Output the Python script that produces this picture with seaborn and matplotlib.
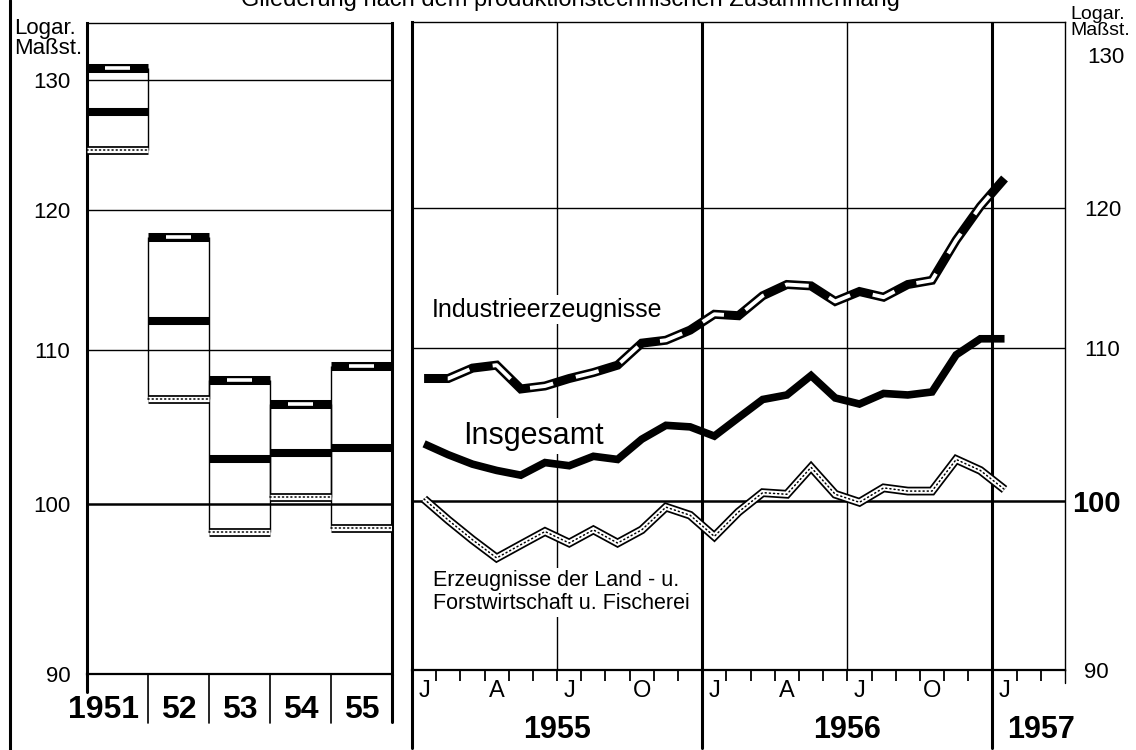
import numpy as np
import pandas as pd
import seaborn as sns
import matplotlib
matplotlib.use("Agg")
from matplotlib import pyplot as plt
from matplotlib import transforms
from matplotlib.lines import Line2D
from matplotlib.ticker import FixedLocator, NullLocator

# Jahreswerte 1951-1955 (linker Teil)
years = ['1951', '52', '53', '54', '55']
industrie_year = [131.0, 118.0, 108.0, 106.4, 108.9]
insgesamt_year = [127.5, 112.0, 102.8, 103.2, 103.5]
land_year = [124.5, 106.7, 98.3, 100.4, 98.5]

# Monatswerte Jan 1955 - Jan 1957 (rechter Teil)
months = [str(p) for p in pd.period_range('1955-01', '1957-01', freq='M')]
industrie_month = [107.9, 107.9, 108.6, 108.8, 107.2, 107.4, 107.9, 108.3, 108.8, 110.3, 110.5, 111.2,
                   112.3, 112.2, 113.6, 114.4, 114.3, 113.2, 113.9, 113.5, 114.4, 114.7, 117.6, 120.1, 122.2]
insgesamt_month = [103.6, 102.9, 102.3, 101.9, 101.6, 102.4, 102.2, 102.8, 102.6, 103.9, 104.8, 104.7,
                   104.1, 105.3, 106.5, 106.8, 108.1, 106.6, 106.2, 106.9, 106.8, 107.0, 109.5, 110.6, 110.6]
land_month = [100.1, 98.8, 97.6, 96.5, 97.3, 98.1, 97.4, 98.2, 97.4, 98.2, 99.6, 99.1,
              97.8, 99.3, 100.5, 100.4, 102.1, 100.4, 99.9, 100.8, 100.6, 100.6, 102.6, 101.9, 100.7]
month_letters = ['J', 'A', 'J', 'O']
year_labels = ['1955', '1956', '1957']
y_ticks = [90, 100, 110, 120, 130]

sns.set_style('white')
plt.rcParams['font.family'] = ['Liberation Sans', 'DejaVu Sans']
plt.rcParams['lines.scale_dashes'] = False
for k in ('text.color', 'axes.labelcolor', 'xtick.color', 'ytick.color'):
    plt.rcParams[k] = 'black'

W, H = 1136, 750
fig = plt.figure(figsize=(W / 100, H / 100), dpi=100)
ax1 = fig.add_axes([87 / W, 76 / H, 305 / W, 651 / H])
ax2 = fig.add_axes([412 / W, 80 / H, 653 / W, 648 / H])

THICK, THIN = 2.2, 1.0
seg = dict(solid_capstyle='butt', solid_joinstyle='miter')


def dotted(ax, x, y):
    ax.plot(x, y, color='black', lw=6.3, zorder=4, **seg)
    ax.plot(x, y, color='white', lw=3.8, zorder=5, **seg)
    ax.plot(x, y, color='black', lw=1.1, zorder=6, linestyle=(0, (0.8, 2.2)),
            dash_capstyle='round')


for ax in (ax1, ax2):
    ax.set_yscale('log')
    ax.set_ylim(90, 134.7)
    ax.yaxis.set_major_locator(FixedLocator(y_ticks))
    ax.yaxis.set_minor_locator(NullLocator())
    ax.set_yticklabels([str(t) for t in y_ticks])
    ax.tick_params(axis='y', labelsize=16, length=0)
    for s in ax.spines.values():
        s.set_color('black')
        s.set_linewidth(THIN)
    ax.spines['left'].set_linewidth(THICK)
    ax.spines['bottom'].set_linewidth(1.6)
    ax.axhline(100, color='black', lw=1.8, zorder=2)
    ax.set_xlabel('')
    ax.set_ylabel('')

# ---- left panel: annual bands ----
for v in (110, 120, 130):
    ax1.axhline(v, color='black', lw=THIN, zorder=1)
ax1.spines['right'].set_linewidth(THICK)

for i, yr in enumerate(years):
    vals = [industrie_year[i], insgesamt_year[i], land_year[i]]
    ax1.vlines([i, i + 1], min(vals), max(vals), color='black', lw=1.0, zorder=3)
    ax1.plot([i, i + 1], [industrie_year[i]] * 2, color='black', lw=6.5, zorder=4, **seg)
    ax1.plot([i + 0.3, i + 0.7], [industrie_year[i]] * 2, color='white', lw=2.6, zorder=5, **seg)
    ax1.plot([i, i + 1], [insgesamt_year[i]] * 2, color='black', lw=5.8, zorder=4, **seg)
    dotted(ax1, [i, i + 1], [land_year[i]] * 2)

ax1.set_xlim(0, len(years))
ax1.set_xticks(np.arange(len(years)) + 0.5)
ax1.set_xticklabels(years, fontweight='bold')
ax1.tick_params(axis='x', length=0, labelsize=23, pad=15)
ax1.tick_params(axis='y', pad=12)
ax1.yaxis.get_major_ticks()[1].tick1line.set_markersize(7)
ax1.yaxis.get_major_ticks()[1].tick1line.set_markeredgewidth(1.6)
first = ax1.xaxis.get_major_ticks()[0].label1
first.set_transform(first.get_transform() + transforms.ScaledTranslation(-0.14, 0, fig.dpi_scale_trans))

tr1 = transforms.blended_transform_factory(ax1.transData, ax1.transAxes)
for i in range(1, len(years)):
    ax1.plot([i, i], [0, -0.075], transform=tr1, color='black', lw=1.2, clip_on=False)
ax1.plot([0, 0], [0, -0.028], transform=tr1, color='black', lw=THICK, clip_on=False)
ax1.plot([len(years)] * 2, [0, -0.074], transform=tr1, color='black', lw=THICK, clip_on=False)

# ---- right panel: monthly lines ----
df = pd.DataFrame({'month': months, 'industrie': industrie_month,
                   'insgesamt': insgesamt_month, 'land': land_month})
df['pos'] = np.arange(len(df)) + 0.5

for v in (110, 120):
    ax2.axhline(v, color='black', lw=THIN, zorder=1)
for m in (6, 18):
    ax2.axvline(m, color='black', lw=THIN, zorder=1)
for m in (12, 24):
    ax2.axvline(m, color='black', lw=THICK, zorder=1)

sns.lineplot(data=df, x='pos', y='land', ax=ax2, color='black', lw=6.3, zorder=4, **seg)
sns.lineplot(data=df, x='pos', y='land', ax=ax2, color='white', lw=3.8, zorder=5, **seg)
sns.lineplot(data=df, x='pos', y='land', ax=ax2, color='black', lw=1.1, zorder=6,
             linestyle=(0, (0.8, 2.2)), dash_capstyle='round')
sns.lineplot(data=df, x='pos', y='insgesamt', ax=ax2, color='black', lw=5.5, zorder=4, **seg)
sns.lineplot(data=df, x='pos', y='industrie', ax=ax2, color='black', lw=6.5, zorder=4, **seg)
sns.lineplot(data=df, x='pos', y='industrie', ax=ax2, color='white', lw=2.8, zorder=5,
             linestyle=(17, (17, 17)), dash_capstyle='butt', solid_joinstyle='miter')

ax2.set_xlim(0, 27)
ax2.set_xlabel('')
ax2.set_ylabel('')
ax2.yaxis.tick_right()
ax2.set_yticklabels([str(t) for t in y_ticks[:-1]] + [''])
ax2.tick_params(axis='y', pad=14, labelsize=16)
t100 = ax2.yaxis.get_major_ticks()[1]
t100.tick2line.set_markersize(9)
t100.tick2line.set_markeredgewidth(1.8)
t100.label2.set_fontsize(21)
t100.label2.set_fontweight('bold')
t100.set_pad(5)
ax2.text(1.0, 130, '130', fontsize=16, va='center', ha='left',
         transform=transforms.offset_copy(ax2.get_yaxis_transform(), fig=fig, x=22, y=22, units='dots'))

ax2.xaxis.set_major_locator(FixedLocator(np.arange(1, 27)))
ax2.xaxis.set_minor_locator(FixedLocator(np.arange(0, len(months), 3) + 0.5))
ax2.xaxis.set_major_formatter(plt.NullFormatter())
ax2.set_xticklabels([month_letters[k % 4] for k in range(len(np.arange(0, len(months), 3)))], minor=True)
ax2.tick_params(axis='x', which='major', direction='out', length=8, width=1.3, bottom=True)
ax2.tick_params(axis='x', which='minor', length=0, labelsize=17, pad=7)

tr2 = transforms.blended_transform_factory(ax2.transData, ax2.transAxes)
for m in (0, 12, 24):
    ax2.plot([m, m], [0, -0.12], transform=tr2, color='black', lw=THICK, clip_on=False)
ax2.plot([27, 27], [0, -0.02], transform=tr2, color='black', lw=THIN, clip_on=False)
for lab, m in zip(year_labels, (6, 18, 26)):
    ax2.text(m, -0.092, lab, transform=tr2, ha='center', va='center', fontsize=22, fontweight='bold')

box = dict(facecolor='white', edgecolor='none', pad=2)
ax2.text(0.031, 0.556, 'Industrieerzeugnisse', transform=ax2.transAxes, fontsize=18,
         va='center', ha='left', bbox=box, zorder=3)
ax2.text(0.078, 0.361, 'Insgesamt', transform=ax2.transAxes, fontsize=22,
         va='center', ha='left', bbox=box, zorder=3)
ax2.text(0.032, 0.12, 'Erzeugnisse der Land - u.\nForstwirtschaft u. Fischerei', transform=ax2.transAxes,
         fontsize=15.5, va='center', ha='left', bbox=box, zorder=3, linespacing=1.1)

# ---- frame and headers ----
fig.add_artist(Line2D([10 / W, 10 / W], [0, 1], color='black', lw=THICK))
fig.text(0.502, 1.0, 'Gliederung nach dem produktionstechnischen Zusammenhang',
         ha='center', va='center', fontsize=17)
fig.text(14 / W, 1 - 18 / H, 'Logar.\nMaßst.', ha='left', va='top', fontsize=16, linespacing=0.95)
fig.text(1070 / W, 1 - 6 / H, 'Logar.\nMaßst.', ha='left', va='top', fontsize=14, linespacing=0.95)

fig.savefig('out.png', dpi=100)
